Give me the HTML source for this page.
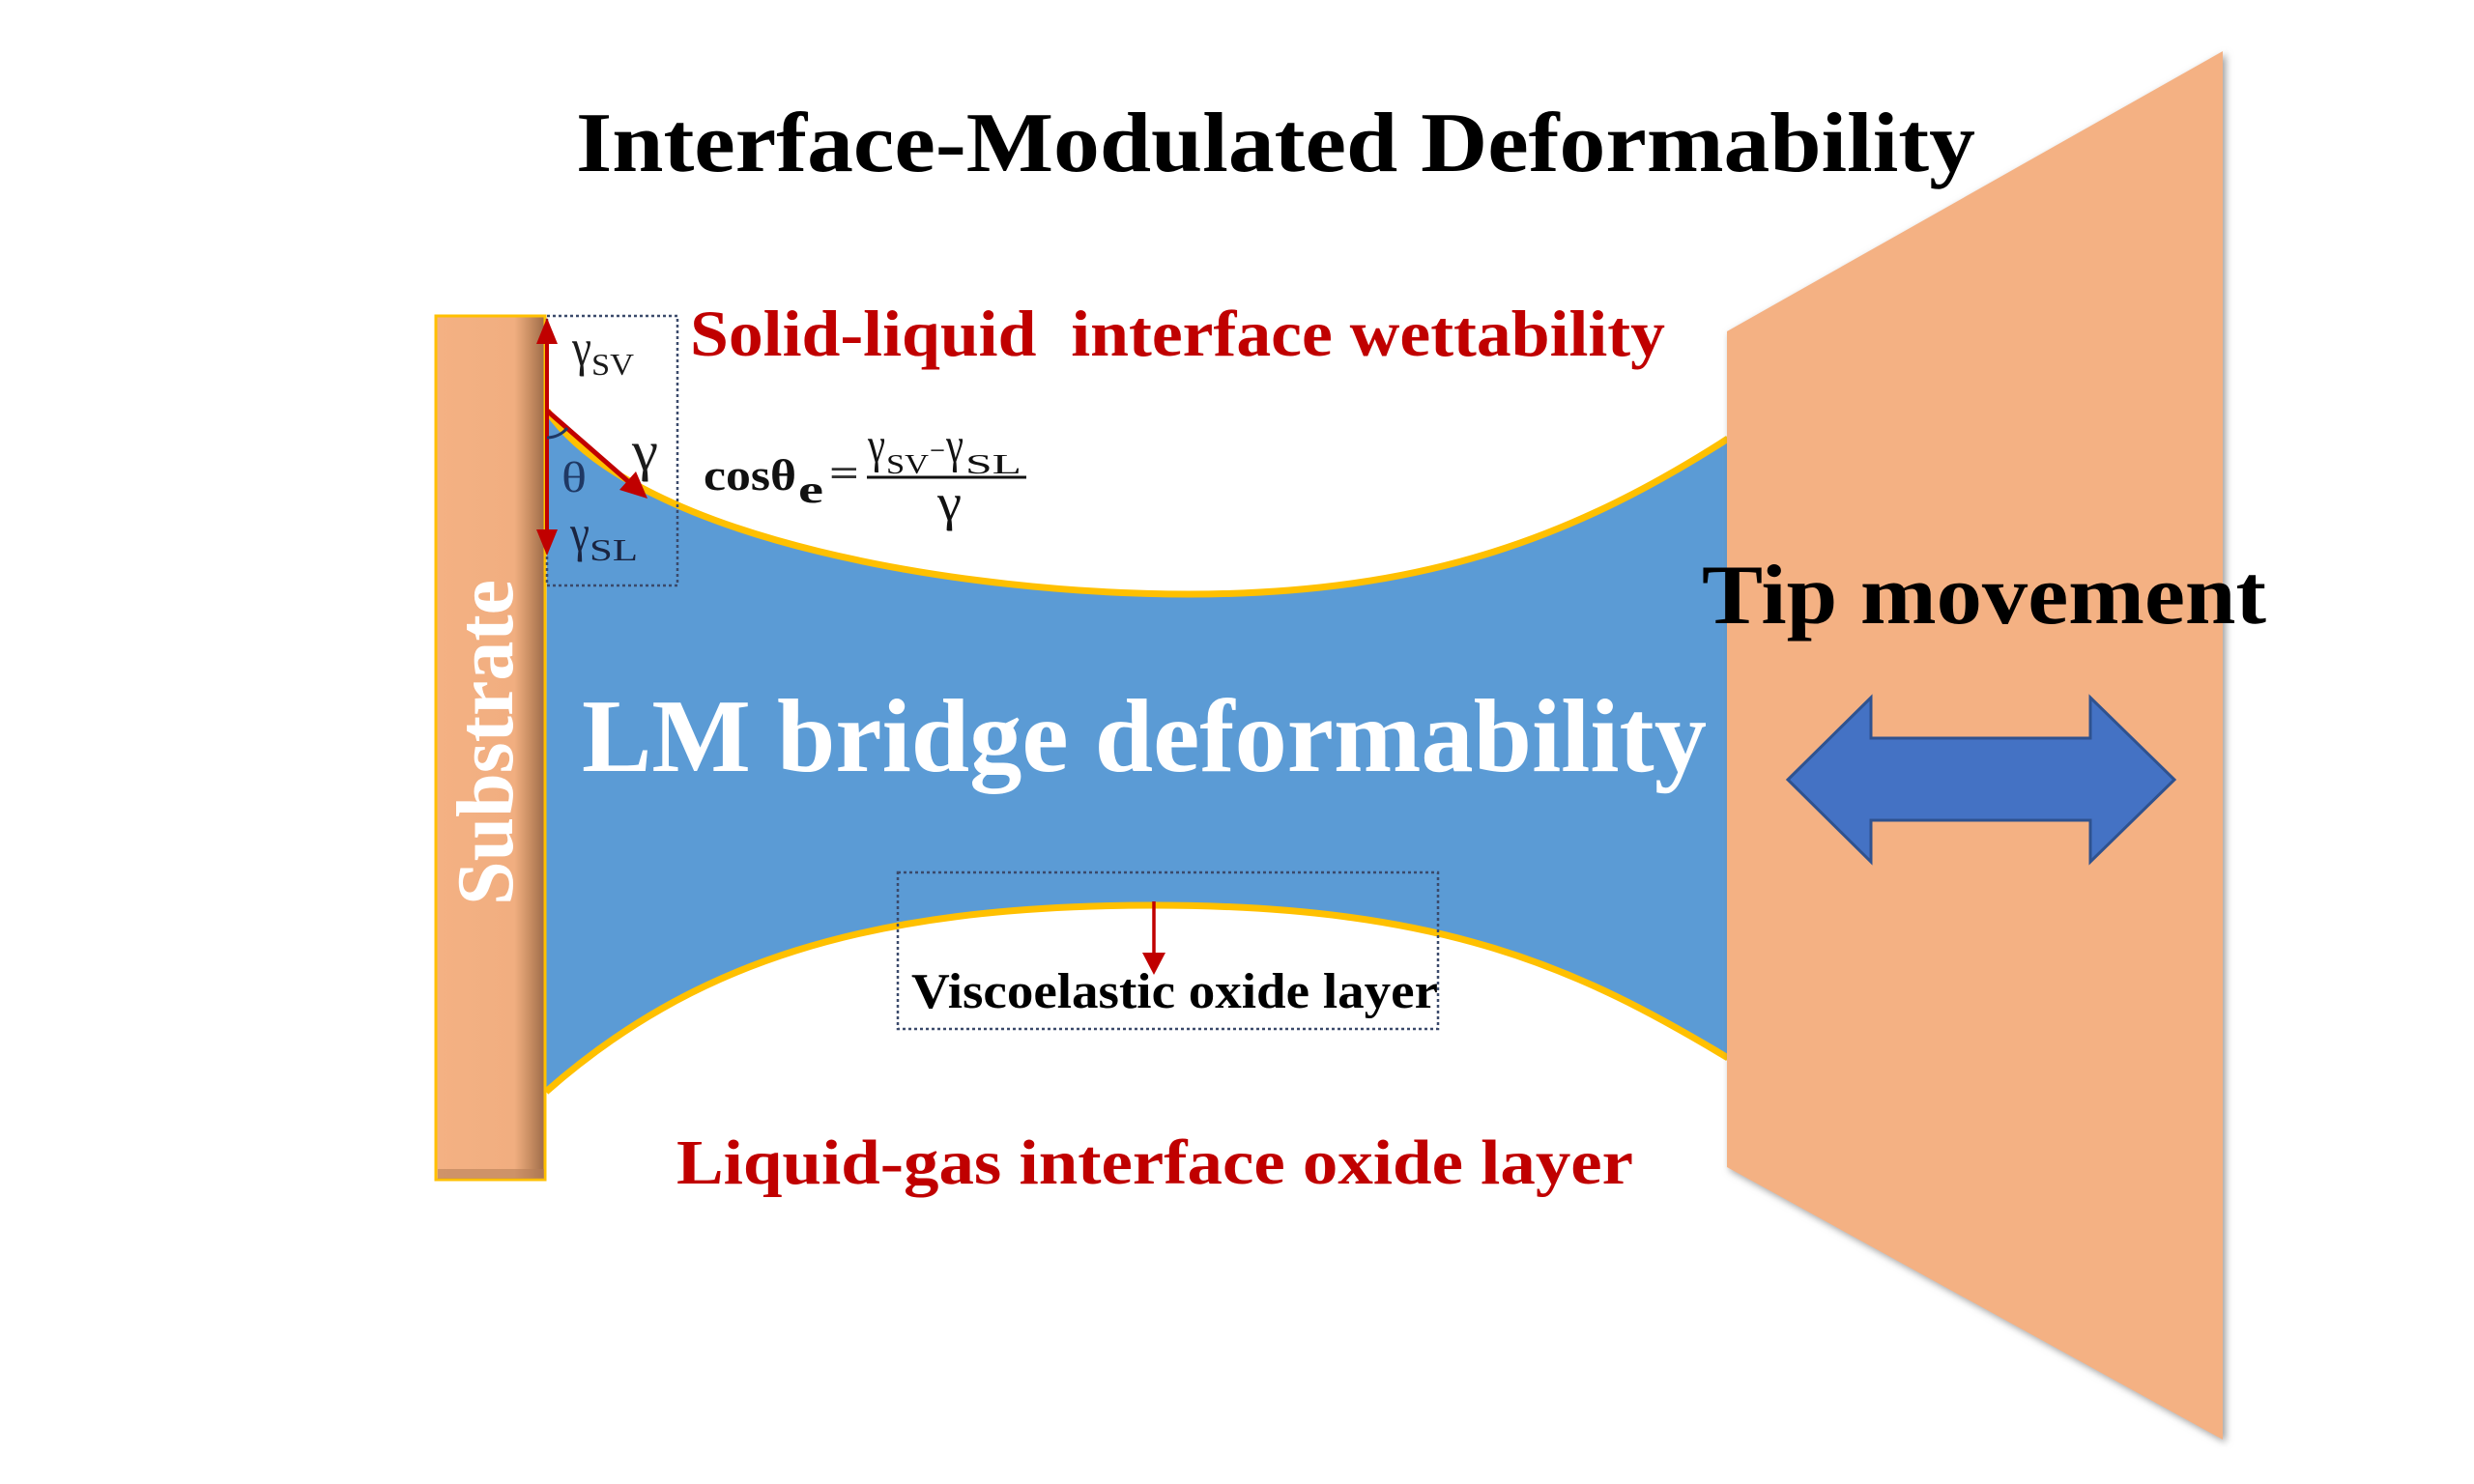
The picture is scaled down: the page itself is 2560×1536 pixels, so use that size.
<!DOCTYPE html>
<html>
<head>
<meta charset="utf-8">
<style>
html,body{margin:0;padding:0;background:#ffffff;}
svg{display:block;}
text{font-family:"Liberation Serif","DejaVu Serif",serif;}
</style>
</head>
<body>
<svg width="2560" height="1536" viewBox="0 0 2560 1536" xmlns="http://www.w3.org/2000/svg">
<defs>
  <linearGradient id="subg" x1="0" x2="1" y1="0" y2="0">
    <stop offset="0" stop-color="#F4B183"/>
    <stop offset="0.72" stop-color="#F1AE80"/>
    <stop offset="0.86" stop-color="#C98E63"/>
    <stop offset="1" stop-color="#9C6A48"/>
  </linearGradient>
  <filter id="sh" x="-10%" y="-10%" width="130%" height="130%">
    <feDropShadow dx="3" dy="3" stdDeviation="4" flood-color="#7a7a7a" flood-opacity="0.75"/>
  </filter>
</defs>

<rect x="0" y="0" width="2560" height="1536" fill="#ffffff"/>

<!-- liquid metal bridge -->
<path d="M 566 425 C 660 560, 1000 615, 1230 615 C 1480 615, 1635 552, 1792 452 L 1792 1097 C 1635 1003, 1494 937, 1194 937 C 894 937, 715 998, 565 1130 Z" fill="#5B9BD5"/>
<path d="M 566 425 C 660 560, 1000 615, 1230 615 C 1480 615, 1635 552, 1788 454" fill="none" stroke="#FFC000" stroke-width="7"/>
<path d="M 565 1130 C 715 998, 894 937, 1194 937 C 1494 937, 1635 1003, 1788 1095" fill="none" stroke="#FFC000" stroke-width="7"/>

<!-- substrate -->
<rect x="451" y="327" width="113" height="894" fill="url(#subg)" stroke="#FFC000" stroke-width="3"/>
<rect x="453" y="1210" width="110" height="10" fill="#B57E58" opacity="0.6"/>
<text transform="translate(530,937) rotate(-90)" font-size="84" font-weight="bold" fill="#ffffff" textLength="337" lengthAdjust="spacingAndGlyphs">Substrate</text>

<!-- tip -->
<polygon points="1787,343 2300,53 2300,1490 1787,1208" fill="#F4B183" filter="url(#sh)"/>

<!-- double arrow -->
<polygon points="1850,807 1936,722 1936,764 2163,764 2163,722 2250,807 2163,892 2163,849 1936,849 1936,892" fill="#4472C4" stroke="#2F528F" stroke-width="3" stroke-linejoin="miter"/>

<!-- title -->
<text x="596" y="177" font-size="88" font-weight="bold" fill="#000000" textLength="1448" lengthAdjust="spacingAndGlyphs">Interface-Modulated Deformability</text>

<!-- Tip movement -->
<text x="1761" y="645" font-size="88" font-weight="bold" fill="#000000" textLength="584" lengthAdjust="spacingAndGlyphs">Tip movement</text>

<!-- red labels -->
<text x="714" y="368" font-size="68" font-weight="bold" fill="#C00000" textLength="1009" lengthAdjust="spacingAndGlyphs" style="white-space:pre">Solid-liquid  interface wettability</text>
<text x="700" y="1225" font-size="66" font-weight="bold" fill="#C00000" textLength="990" lengthAdjust="spacingAndGlyphs">Liquid-gas interface oxide layer</text>

<!-- LM bridge -->
<text x="602" y="798" font-size="108" font-weight="bold" fill="#ffffff" textLength="1164" lengthAdjust="spacingAndGlyphs">LM bridge deformability</text>

<!-- viscoelastic box -->
<rect x="929" y="903" width="559" height="162" fill="none" stroke="#3B4A6B" stroke-width="2.5" stroke-dasharray="3 3"/>
<line x1="1194" y1="933" x2="1194" y2="990" stroke="#C00000" stroke-width="3.5"/>
<polygon points="1194,1009 1182,986 1206,986" fill="#C00000"/>
<text x="943" y="1043" font-size="52" font-weight="bold" fill="#000000" textLength="545" lengthAdjust="spacingAndGlyphs">Viscoelastic oxide layer</text>

<!-- contact-angle box -->
<rect x="566" y="327" width="135" height="279" fill="none" stroke="#3B4A6B" stroke-width="2.5" stroke-dasharray="3 3"/>

<!-- red force arrows -->
<line x1="566" y1="425" x2="566" y2="350" stroke="#C00000" stroke-width="4"/>
<polygon points="566,329 555,356 577,356" fill="#C00000"/>
<line x1="566" y1="425" x2="566" y2="552" stroke="#C00000" stroke-width="4"/>
<polygon points="566,575 555,548 577,548" fill="#C00000"/>
<line x1="566" y1="425" x2="652" y2="500" stroke="#C00000" stroke-width="5"/>
<polygon points="670,516 641,507 658,488" fill="#C00000"/>

<!-- angle arc -->
<path d="M 566 453 A 28 28 0 0 0 587 443" fill="none" stroke="#1F3864" stroke-width="3"/>

<!-- labels in box -->
<text x="592" y="378" font-size="54" fill="#1a1a1a" textLength="20" lengthAdjust="spacingAndGlyphs">γ</text>
<text x="612" y="388" font-size="32" fill="#1a1a1a" textLength="44" lengthAdjust="spacingAndGlyphs">SV</text>
<text x="654" y="486" font-size="58" fill="#1a1a1a" textLength="27" lengthAdjust="spacingAndGlyphs">γ</text>
<text x="581" y="509" font-size="44" fill="#1F3864" textLength="26" lengthAdjust="spacingAndGlyphs">θ</text>
<text x="590" y="570" font-size="54" fill="#1a2440" textLength="20" lengthAdjust="spacingAndGlyphs">γ</text>
<text x="610" y="580" font-size="32" fill="#1a2440" textLength="50" lengthAdjust="spacingAndGlyphs">SL</text>

<!-- Young equation -->
<text x="728" y="507" font-size="46" font-weight="bold" fill="#111111" textLength="96" lengthAdjust="spacingAndGlyphs">cosθ</text>
<text x="826" y="520" font-size="40" font-weight="bold" fill="#111111" textLength="26" lengthAdjust="spacingAndGlyphs">e</text>
<text x="858" y="503" font-size="40" font-weight="bold" fill="#333333" textLength="31" lengthAdjust="spacingAndGlyphs">=</text>
<line x1="897" y1="494" x2="1062" y2="494" stroke="#111111" stroke-width="3"/>
<text x="898" y="478" font-size="52" fill="#111111" textLength="18" lengthAdjust="spacingAndGlyphs">γ</text>
<text x="917" y="490" font-size="28" fill="#111111" textLength="44" lengthAdjust="spacingAndGlyphs">SV</text>
<text x="962" y="476" font-size="30" fill="#111111" textLength="16" lengthAdjust="spacingAndGlyphs">−</text>
<text x="979" y="478" font-size="52" fill="#111111" textLength="18" lengthAdjust="spacingAndGlyphs">γ</text>
<text x="999" y="490" font-size="28" fill="#111111" textLength="58" lengthAdjust="spacingAndGlyphs">SL</text>
<text x="970" y="538" font-size="54" fill="#111111" textLength="25" lengthAdjust="spacingAndGlyphs">γ</text>
</svg>
</body>
</html>
